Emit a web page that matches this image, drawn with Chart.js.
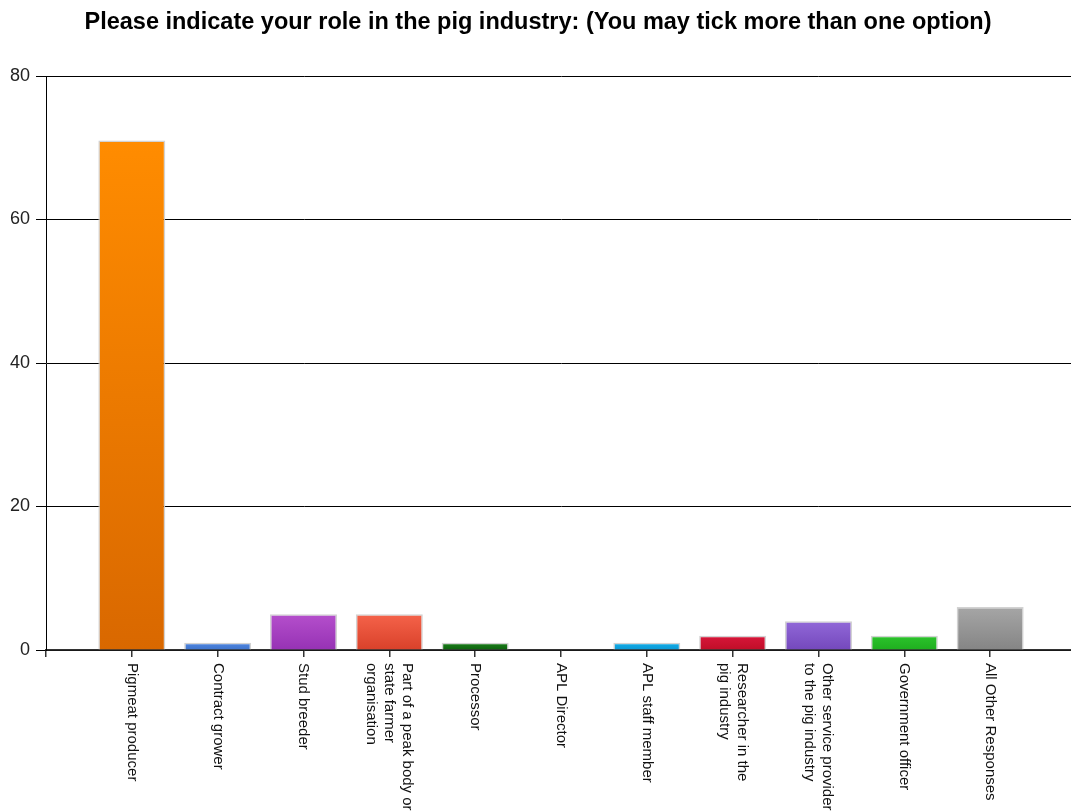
<!DOCTYPE html>
<html>
<head>
<meta charset="utf-8">
<script src="https://cdn.jsdelivr.net/npm/chart.js@4"></script>
<style>
  html, body { margin: 0; padding: 0; background: #fff; overflow: hidden; }
  #wrap { width: 1076px; height: 812px; position: relative; }
</style>
</head>
<body>
<div id="wrap"><canvas id="roleChart"></canvas></div>
<script>
// survey answers, one bar per role
var roles = [
    "Pigmeat producer",
    "Contract grower",
    "Stud breeder",
    "Part of a peak body or|state farmer|organisation",
    "Processor",
    "APL Director",
    "APL staff member",
    "Researcher in the|pig industry",
    "Other service provider|to the pig industry",
    "Government officer",
    "All Other Responses"
];
var counts = [71, 1, 5, 5, 1, 0, 1, 2, 4, 2, 6];
var yTicks = [0, 20, 40, 60, 80];

// top / bottom shade of each bar
var topColors = ['#ff8c00', '#4f86e0', '#b54fcc', '#f5634a', '#1c7e1c', '#888888', '#12aee8', '#d8163a', '#9168d8', '#2cc42c', '#a6a6a6'];
var bottomColors = ['#d96800', '#3f74cc', '#9632b4', '#d9412a', '#0d630d', '#777777', '#0b98d6', '#c00e28', '#7448bc', '#1fae1f', '#858585'];

// an empty slot either side so the bars sit in from the axis
var labels = [''].concat(roles, ['']);
var values = [null].concat(counts, [null]);

var fontFamily = '"Liberation Sans", Arial, sans-serif';

var barFill = function(c) {
    var chart = c.chart;
    var i = c.dataIndex - 1;
    if (!chart.chartArea || i < 0 || i >= roles.length) return topColors[0];
    var y = chart.scales.y;
    var top = y.getPixelForValue(values[c.dataIndex] || 0);
    var bottom = y.getPixelForValue(0);
    if (bottom - top < 1) return bottomColors[i];
    var g = chart.ctx.createLinearGradient(0, top, 0, bottom);
    g.addColorStop(0, topColors[i]);
    g.addColorStop(1, bottomColors[i]);
    return g;
};

// category names written top to bottom under each tick
var verticalLabels = {
    id: 'verticalLabels',
    afterDraw: function(chart) {
        var ctx = chart.ctx;
        var x = chart.scales.x;
        var startY = chart.chartArea.bottom + 13;
        ctx.save();
        ctx.font = '15px ' + fontFamily;
        ctx.fillStyle = '#111';
        ctx.textAlign = 'left';
        ctx.textBaseline = 'middle';
        roles.forEach(function(name, i) {
            var lines = name.split('|');
            var px = x.getPixelForValue(i + 1);
            ctx.save();
            ctx.translate(px, startY);
            ctx.rotate(Math.PI / 2);
            lines.forEach(function(line, j) {
                ctx.fillText(line, 0, (j - (lines.length - 1) / 2) * 18);
            });
            ctx.restore();
        });
        ctx.restore();
    }
};

var ctx = document.getElementById('roleChart').getContext('2d');
var roleChart = new Chart(ctx, {
    type: 'bar',
    data: {
        labels: labels,
        datasets: [{
            label: 'Responses',
            data: values,
            backgroundColor: barFill,
            borderColor: 'rgba(205,205,205,0.9)',
            borderWidth: 1.5,
            barPercentage: 0.78,
            categoryPercentage: 1
        }]
    },
    options: {
        responsive: true,
        maintainAspectRatio: false,
        animation: false,
        layout: { padding: { top: 2, right: 0, left: 0, bottom: 0 } },
        plugins: {
            legend: { display: false },
            tooltip: { enabled: false },
            title: {
                display: true,
                text: 'Please indicate your role in the pig industry: (You may tick more than one option)',
                color: '#000',
                font: { family: fontFamily, size: 23.5, weight: 'bold' },
                padding: { top: 6, bottom: 39.8 }
            }
        },
        scales: {
            x: {
                offset: false,
                grid: {
                    offset: false,
                    drawOnChartArea: false,
                    drawTicks: true,
                    tickLength: 7,
                    color: '#333',
                    lineWidth: 1.5
                },
                border: { display: true, color: '#333', width: 1.5 },
                ticks: { display: false, autoSkip: false },
                afterFit: function(scale) { scale.height = 162; }
            },
            y: {
                min: 0,
                max: 80,
                afterBuildTicks: function(scale) {
                    scale.ticks = yTicks.map(function(v) { return { value: v }; });
                },
                grid: {
                    color: '#000',
                    lineWidth: 1,
                    drawTicks: true,
                    tickLength: 10
                },
                border: { display: true, color: '#000', width: 1 },
                ticks: {
                    color: '#222',
                    padding: 6,
                    font: { family: fontFamily, size: 18 }
                },
                afterFit: function(scale) { scale.width = 46; }
            }
        }
    },
    plugins: [verticalLabels]
});
</script>
</body>
</html>
